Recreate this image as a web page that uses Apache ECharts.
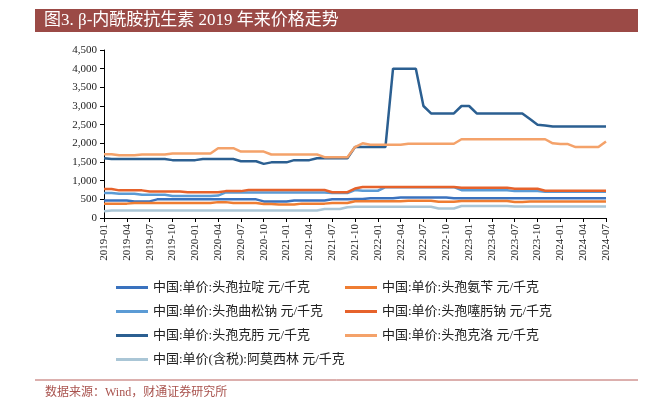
<!DOCTYPE html>
<html>
<head>
<meta charset="utf-8">
<script src="https://cdn.jsdelivr.net/npm/echarts@6/dist/echarts.min.js"></script>
<style>
html,body{margin:0;padding:0;background:#fff;}
#c{width:654px;height:416px;}
</style>
</head>
<body>
<div id="c"></div>
<script>
// ---- data ----
const months = [];
for (let y = 2019; y <= 2024; y++) {
  for (let m = 1; m <= 12; m++) {
    if (y === 2024 && m > 7) break;
    months.push(y + '-' + (m < 10 ? '0' + m : '' + m));
  }
}
function rep(v, n) { return Array(n).fill(v); }

const seriesNames = [
  '中国:单价:头孢拉啶 元/千克',
  '中国:单价:头孢氨苄 元/千克',
  '中国:单价:头孢曲松钠 元/千克',
  '中国:单价:头孢噻肟钠 元/千克',
  '中国:单价:头孢克肟 元/千克',
  '中国:单价:头孢克洛 元/千克',
  '中国:单价(含税):阿莫西林 元/千克'
];

const cefradine = [].concat(rep(470,4), rep(445,3), rep(500,14), rep(445,4), rep(470,5), rep(500,3),
  rep(510,2), rep(530,4), rep(550,7), rep(530,21));
const cefalexin = [].concat(rep(385,4), rep(400,11), rep(425,2), rep(400,4), rep(375,2), rep(360,3),
  rep(385,4), rep(400,3), rep(450,7), rep(463,4), rep(437,3), rep(455,7), rep(430,2), rep(445,11));
const ceftriaxone = [].concat(rep(670,2), rep(650,3), rep(620,4), rep(590,6), [600], rep(685,14),
  rep(670,3), [750], rep(730,3), rep(825,10), rep(745,7), rep(720,4), rep(700,9));
const cefotaxime = [].concat(rep(775,2), rep(740,4), rep(710,5), rep(690,5), rep(720,3), rep(750,11),
  rep(690,3), [790], rep(830,13), rep(810,7), rep(785,4), rep(730,9));
const cefixime = [].concat([1600], rep(1580,8), rep(1550,4), rep(1580,5), rep(1520,3), [1450], rep(1490,3),
  rep(1550,3), rep(1600,5), rep(1900,5), rep(4000,4), [3000], rep(2800,4), rep(3000,2), rep(2800,7),
  [2650], [2500], [2480], rep(2450,8));
const cefaclor = [].concat(rep(1710,2), rep(1680,3), rep(1700,4), rep(1730,6), rep(1870,3), rep(1780,4),
  rep(1700,7), rep(1630,4), [1900], [2000], rep(1960,5), rep(1990,7), rep(2110,12), [2000], rep(1980,2),
  rep(1900,4), [2050]);
const amoxicillin = [].concat([180], rep(200,28), rep(240,3), [290], rep(300,11), rep(255,3), rep(320,7), rep(305,13));

const yTicks = { min: 0, max: 4500, interval: 500 };

// ---- chart ----
const colors = ['#3a72be', '#ef7d32', '#5b9bd5', '#e6622b', '#2b5f91', '#f4a26a', '#aac6d6'];
const dataSets = [cefradine, cefalexin, ceftriaxone, cefotaxime, cefixime, cefaclor, amoxicillin];
const latin = "'Liberation Serif', 'Noto Sans CJK SC', serif";

const legendPos = [
  [116, 281], [345, 281],
  [116, 305], [345, 305],
  [116, 329], [345, 329],
  [116, 353]
];

const chart = echarts.init(document.getElementById('c'), null, { renderer: 'canvas' });
chart.setOption({
  animation: false,
  backgroundColor: '#fff',
  color: colors,
  grid: { left: 104, right: 48, top: 50, bottom: 198 },
  xAxis: {
    type: 'category',
    data: months,
    boundaryGap: false,
    axisLine: { lineStyle: { color: '#000', width: 1 } },
    axisTick: { interval: 2, length: 4, lineStyle: { color: '#000' } },
    axisLabel: { interval: 2, rotate: 90, fontFamily: latin, fontSize: 11, color: '#222', margin: 6 },
    splitLine: { show: false }
  },
  yAxis: {
    type: 'value',
    min: yTicks.min, max: yTicks.max, interval: yTicks.interval,
    axisLine: { show: true, lineStyle: { color: '#000', width: 1 } },
    axisTick: { show: true, length: 4, lineStyle: { color: '#000' } },
    axisLabel: {
      fontFamily: latin, fontSize: 11, color: '#222', margin: 7,
      formatter: v => v.toLocaleString('en-US')
    },
    splitLine: { show: false }
  },
  legend: seriesNames.map((n, i) => ({
    data: [n],
    left: legendPos[i][0], top: legendPos[i][1],
    padding: 0,
    icon: 'rect', itemWidth: 32, itemHeight: 3,
    textStyle: { fontFamily: latin, fontSize: 13, color: '#222' },
    selectedMode: false
  })),
  series: seriesNames.map((n, i) => ({
    name: n,
    type: 'line',
    data: dataSets[i],
    showSymbol: false,
    symbol: 'none',
    lineStyle: { width: 2.5, color: colors[i] },
    itemStyle: { color: colors[i] }
  })),
  graphic: [
    { type: 'rect', shape: { x: 35, y: 9, width: 603, height: 23 }, style: { fill: '#9b4a46' } },
    { type: 'text', x: 44, y: 20.5, style: { text: '图3. β-内酰胺抗生素 2019 年来价格走势', fill: '#fff',
      font: "17px 'Liberation Serif', 'Noto Sans CJK SC', serif", textVerticalAlign: 'middle' } },
    { type: 'line', shape: { x1: 35, y1: 380, x2: 638, y2: 380 }, style: { stroke: '#b9615c', lineWidth: 1 } },
    { type: 'text', x: 45, y: 393, style: { text: '数据来源：Wind，财通证券研究所', fill: '#a9534e',
      font: "12px 'Liberation Serif', 'Noto Sans CJK SC', serif", textVerticalAlign: 'middle' } }
  ]
});
</script>
</body>
</html>
